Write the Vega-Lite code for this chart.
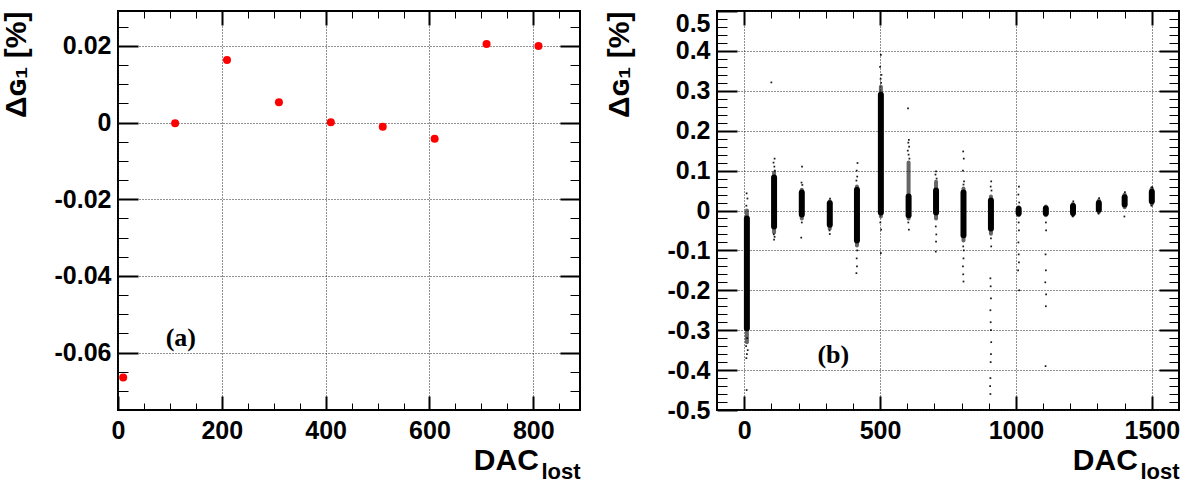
{
  "$schema": "https://vega.github.io/schema/vega-lite/v6.json",
  "padding": {"left": 0, "top": 9, "right": 13, "bottom": 0},
  "spacing": 21,
  "config": {
    "view": {"stroke": "black", "strokeWidth": 2},
    "font": "Liberation Sans, DejaVu Sans",
    "axis": {
      "domain": false,
      "labelFont": "Liberation Sans",
      "labelFontSize": 25,
      "labelFontWeight": "bold",
      "labelColor": "black",
      "tickColor": "black",
      "tickWidth": 2,
      "gridColor": "#222",
      "gridDash": [1, 2],
      "gridWidth": 1,
      "titleFont": "Liberation Sans, DejaVu Sans",
      "titleFontSize": 30,
      "titleFontWeight": "bold",
      "titleColor": "black"
    }
  },
  "hconcat": [
    {
      "width": 462,
      "height": 399,
      "data": {"values": [
        {"dac": 10, "delta": -0.0665},
        {"dac": 110, "delta": -0.0002},
        {"dac": 210, "delta": 0.0163},
        {"dac": 310, "delta": 0.0053},
        {"dac": 410, "delta": 0.0001},
        {"dac": 510, "delta": -0.0011},
        {"dac": 610, "delta": -0.0042},
        {"dac": 710, "delta": 0.0205},
        {"dac": 810, "delta": 0.0200}
      ]},
      "resolve": {"axis": {"x": "independent", "y": "independent"}},
      "layer": [
        {
          "mark": {"type": "circle", "color": "#ff0000", "opacity": 1, "size": 64},
          "encoding": {
            "x": {"field": "dac", "type": "quantitative",
              "scale": {"domain": [0, 890], "nice": false, "zero": false},
              "axis": {"orient": "bottom", "values": [0, 200, 400, 600, 800], "tickSize": -14, "labelPadding": 22.5,
                "grid": true, "labelExpr": "toString(datum.value)", "labelFlush": false,
                "title": "DAC\u00a0\u00a0\u00a0\u00a0\u00a0\u200b", "titleAnchor": "end", "titlePadding": 2}},
            "y": {"field": "delta", "type": "quantitative",
              "scale": {"domain": [-0.075, 0.0291], "nice": false, "zero": false},
              "axis": {"orient": "left", "values": [-0.06, -0.04, -0.02, 0, 0.02], "tickSize": -20, "labelPadding": 27,
                "grid": true, "labelExpr": "toString(datum.value)",
                "title": "Δɢ₁ [%]", "titleAnchor": "end", "titlePadding": 23}}
          }
        },
        {
          "mark": {"type": "point", "opacity": 0},
          "encoding": {
            "x": {"field": "dac", "type": "quantitative",
              "axis": {"orient": "bottom", "values": [50, 100, 150, 250, 300, 350, 450, 500, 550, 650, 700, 750, 850], "tickSize": -7, "tickWidth": 1, "labels": false, "grid": false,
                "title": "lost", "titleFontSize": 22, "titleAnchor": "end", "titlePadding": 51}},
            "y": {"field": "delta", "type": "quantitative",
              "axis": {"orient": "left", "values": [-0.07, -0.065, -0.055, -0.05, -0.045, -0.035, -0.03, -0.025, -0.015, -0.01, -0.005, 0.005, 0.01, 0.015, 0.025], "tickSize": -10, "tickWidth": 1, "labels": false, "grid": false, "title": null}}
          }
        },
        {
          "mark": {"type": "point", "opacity": 0},
          "encoding": {
            "x": {"field": "dac", "type": "quantitative",
              "axis": {"orient": "top", "values": [200, 400, 600, 800], "tickSize": -14, "labels": false, "grid": false, "title": null}},
            "y": {"field": "delta", "type": "quantitative",
              "axis": {"orient": "right", "values": [-0.06, -0.04, -0.02, 0, 0.02], "tickSize": -20, "labels": false, "grid": false, "title": null}}
          }
        },
        {
          "mark": {"type": "point", "opacity": 0},
          "encoding": {
            "x": {"field": "dac", "type": "quantitative",
              "axis": {"orient": "top", "values": [50, 100, 150, 250, 300, 350, 450, 500, 550, 650, 700, 750, 850], "tickSize": -7, "tickWidth": 1, "labels": false, "grid": false, "title": null}},
            "y": {"field": "delta", "type": "quantitative",
              "axis": {"orient": "right", "values": [-0.07, -0.065, -0.055, -0.05, -0.045, -0.035, -0.03, -0.025, -0.015, -0.01, -0.005, 0.005, 0.01, 0.015, 0.025], "tickSize": -10, "tickWidth": 1, "labels": false, "grid": false, "title": null}}
          }
        },
        {
          "data": {"values": [{"dac": 121, "delta": -0.0563, "label": "(a)"}]},
          "mark": {"type": "text", "font": "Liberation Serif", "fontWeight": "bold", "fontSize": 26, "color": "black", "baseline": "middle", "align": "center"},
          "encoding": {
            "x": {"field": "dac", "type": "quantitative", "axis": null},
            "y": {"field": "delta", "type": "quantitative", "axis": null},
            "text": {"field": "label"}
          }
        }
      ]
    },
    {
      "width": 462,
      "height": 399,
      "resolve": {"axis": {"x": "independent", "y": "independent"}},
      "layer": [
        {
          "data": {"values": [
            {"dac": 10, "lo": -0.33, "hi": 0.0},
            {"dac": 110, "lo": -0.055, "hi": 0.095},
            {"dac": 212, "lo": -0.02, "hi": 0.052},
            {"dac": 315, "lo": -0.045, "hi": 0.023},
            {"dac": 415, "lo": -0.088, "hi": 0.06},
            {"dac": 503, "lo": -0.015, "hi": 0.31},
            {"dac": 605, "lo": -0.02, "hi": 0.12},
            {"dac": 706, "lo": -0.02, "hi": 0.072},
            {"dac": 807, "lo": -0.075, "hi": 0.055},
            {"dac": 908, "lo": -0.058, "hi": 0.035},
            {"dac": 1010, "lo": -0.012, "hi": 0.008},
            {"dac": 1110, "lo": -0.012, "hi": 0.01},
            {"dac": 1210, "lo": -0.011, "hi": 0.016},
            {"dac": 1305, "lo": -0.004, "hi": 0.025},
            {"dac": 1400, "lo": 0.008, "hi": 0.04},
            {"dac": 1500, "lo": 0.016, "hi": 0.056}
          ]},
          "mark": {"type": "rule", "color": "black", "strokeWidth": 4, "strokeCap": "round", "opacity": 0.6},
          "encoding": {
            "x": {"field": "dac", "type": "quantitative",
              "scale": {"domain": [-100, 1600], "nice": false, "zero": false},
              "axis": {"orient": "bottom", "values": [0, 500, 1000, 1500], "tickSize": -14, "labelPadding": 22.5,
                "grid": true, "labelExpr": "toString(datum.value)", "labelFlush": false,
                "title": "DAC\u00a0\u00a0\u00a0\u00a0\u00a0\u200b", "titleAnchor": "end", "titlePadding": 2}},
            "y": {"field": "lo", "type": "quantitative",
              "scale": {"domain": [-0.5, 0.5], "nice": false, "zero": false},
              "axis": {"orient": "left", "values": [-0.5, -0.4, -0.3, -0.2, -0.1, 0, 0.1, 0.2, 0.3, 0.4, 0.5], "tickSize": -20, "labelPadding": 27,
                "grid": true, "labelExpr": "toString(datum.value)",
                "labelBaseline": {"condition": {"test": "datum.value >= 0.5", "value": "top"}, "value": "middle"},
                "title": "Δɢ₁ [%]", "titleAnchor": "end", "titlePadding": 32}},
            "y2": {"field": "hi"}
          }
        },
        {
          "data": {"values": [
            {"dac": 10, "lo": -0.295, "hi": -0.02},
            {"dac": 110, "lo": -0.04, "hi": 0.083},
            {"dac": 212, "lo": -0.01, "hi": 0.045},
            {"dac": 315, "lo": -0.036, "hi": 0.018},
            {"dac": 415, "lo": -0.075, "hi": 0.052},
            {"dac": 503, "lo": -0.005, "hi": 0.29},
            {"dac": 605, "lo": -0.012, "hi": 0.035},
            {"dac": 706, "lo": -0.005, "hi": 0.05},
            {"dac": 807, "lo": -0.062, "hi": 0.045},
            {"dac": 908, "lo": -0.045, "hi": 0.025},
            {"dac": 1010, "lo": -0.007, "hi": 0.004},
            {"dac": 1110, "lo": -0.007, "hi": 0.005},
            {"dac": 1210, "lo": -0.006, "hi": 0.011},
            {"dac": 1305, "lo": 0.002, "hi": 0.019},
            {"dac": 1400, "lo": 0.015, "hi": 0.033},
            {"dac": 1500, "lo": 0.023, "hi": 0.047}
          ]},
          "mark": {"type": "rule", "color": "black", "strokeWidth": 6, "strokeCap": "round"},
          "encoding": {
            "x": {"field": "dac", "type": "quantitative", "axis": null},
            "y": {"field": "lo", "type": "quantitative", "axis": null},
            "y2": {"field": "hi"}
          }
        },
        {
          "data": {"values": [
            {"dac": 9, "delta": 0.043}, {"dac": 12, "delta": 0.03}, {"dac": 8, "delta": 0.012}, {"dac": 11, "delta": -0.32},
            {"dac": 7, "delta": -0.34}, {"dac": 13, "delta": -0.35}, {"dac": 10, "delta": -0.36}, {"dac": 8, "delta": -0.37}, {"dac": 9, "delta": -0.45},
            {"dac": 100, "delta": 0.321}, {"dac": 112, "delta": 0.13}, {"dac": 108, "delta": 0.12}, {"dac": 111, "delta": 0.11}, {"dac": 113, "delta": 0.1},
            {"dac": 109, "delta": -0.06}, {"dac": 112, "delta": -0.066}, {"dac": 110, "delta": -0.073},
            {"dac": 213, "delta": 0.11}, {"dac": 211, "delta": 0.07}, {"dac": 214, "delta": 0.064}, {"dac": 212, "delta": -0.03}, {"dac": 210, "delta": -0.068},
            {"dac": 316, "delta": 0.03}, {"dac": 314, "delta": -0.05}, {"dac": 315, "delta": -0.059},
            {"dac": 417, "delta": 0.119}, {"dac": 414, "delta": 0.1}, {"dac": 416, "delta": 0.085}, {"dac": 413, "delta": 0.075},
            {"dac": 416, "delta": -0.1}, {"dac": 414, "delta": -0.12}, {"dac": 415, "delta": -0.14}, {"dac": 413, "delta": -0.157},
            {"dac": 503, "delta": 0.39}, {"dac": 500, "delta": 0.36}, {"dac": 505, "delta": 0.34}, {"dac": 502, "delta": 0.33}, {"dac": 504, "delta": 0.32},
            {"dac": 501, "delta": -0.03}, {"dac": 504, "delta": -0.048}, {"dac": 503, "delta": -0.107},
            {"dac": 603, "delta": 0.256}, {"dac": 606, "delta": 0.177}, {"dac": 604, "delta": 0.17}, {"dac": 607, "delta": 0.16}, {"dac": 602, "delta": 0.15},
            {"dac": 605, "delta": 0.14}, {"dac": 608, "delta": 0.13}, {"dac": 604, "delta": -0.03}, {"dac": 606, "delta": -0.048},
            {"dac": 706, "delta": 0.098}, {"dac": 704, "delta": 0.09}, {"dac": 708, "delta": 0.08}, {"dac": 705, "delta": -0.04},
            {"dac": 707, "delta": -0.06}, {"dac": 706, "delta": -0.078}, {"dac": 705, "delta": -0.103},
            {"dac": 806, "delta": 0.148}, {"dac": 808, "delta": 0.13}, {"dac": 805, "delta": 0.1}, {"dac": 809, "delta": 0.073}, {"dac": 807, "delta": 0.065},
            {"dac": 806, "delta": -0.09}, {"dac": 808, "delta": -0.1}, {"dac": 807, "delta": -0.12}, {"dac": 805, "delta": -0.14}, {"dac": 806, "delta": -0.16}, {"dac": 807, "delta": -0.178},
            {"dac": 909, "delta": 0.073}, {"dac": 907, "delta": 0.06}, {"dac": 910, "delta": 0.05}, {"dac": 908, "delta": -0.07}, {"dac": 909, "delta": -0.09},
            {"dac": 906, "delta": -0.17}, {"dac": 907, "delta": -0.19}, {"dac": 908, "delta": -0.22}, {"dac": 906, "delta": -0.25}, {"dac": 907, "delta": -0.28},
            {"dac": 908, "delta": -0.3}, {"dac": 909, "delta": -0.33}, {"dac": 908, "delta": -0.36}, {"dac": 907, "delta": -0.38}, {"dac": 906, "delta": -0.42},
            {"dac": 905, "delta": -0.44}, {"dac": 906, "delta": -0.46},
            {"dac": 1011, "delta": 0.06}, {"dac": 1009, "delta": 0.04}, {"dac": 1012, "delta": 0.02}, {"dac": 1010, "delta": -0.03}, {"dac": 1011, "delta": -0.05},
            {"dac": 1009, "delta": -0.08}, {"dac": 1010, "delta": -0.11}, {"dac": 1011, "delta": -0.13}, {"dac": 1008, "delta": -0.15}, {"dac": 1012, "delta": -0.2},
            {"dac": 1110, "delta": -0.03}, {"dac": 1111, "delta": -0.05}, {"dac": 1109, "delta": -0.11}, {"dac": 1110, "delta": -0.15},
            {"dac": 1108, "delta": -0.18}, {"dac": 1111, "delta": -0.21}, {"dac": 1110, "delta": -0.24}, {"dac": 1109, "delta": -0.39},
            {"dac": 1211, "delta": 0.023}, {"dac": 1209, "delta": -0.015},
            {"dac": 1306, "delta": 0.031}, {"dac": 1304, "delta": -0.008},
            {"dac": 1401, "delta": 0.046}, {"dac": 1399, "delta": -0.015},
            {"dac": 1501, "delta": 0.058}, {"dac": 1499, "delta": 0.012}
          ]},
          "layer": [
            {
              "mark": {"type": "square", "color": "black", "size": 3, "opacity": 0.9},
              "encoding": {
                "x": {"field": "dac", "type": "quantitative", "axis": null},
                "y": {"field": "delta", "type": "quantitative", "axis": null}
              }
            },
            {
              "mark": {"type": "point", "opacity": 0},
              "encoding": {
                "x": {"field": "dac", "type": "quantitative",
                  "axis": {"orient": "bottom", "values": [100, 200, 300, 400, 600, 700, 800, 900, 1100, 1200, 1300, 1400], "tickSize": -7, "tickWidth": 1, "labels": false, "grid": false,
                    "title": "lost", "titleFontSize": 22, "titleAnchor": "end", "titlePadding": 51}},
                "y": {"field": "delta", "type": "quantitative",
                  "axis": {"orient": "left", "values": [-0.48, -0.46, -0.44, -0.42, -0.38, -0.36, -0.34, -0.32, -0.28, -0.26, -0.24, -0.22, -0.18, -0.16, -0.14, -0.12, -0.08, -0.06, -0.04, -0.02, 0.02, 0.04, 0.06, 0.08, 0.12, 0.14, 0.16, 0.18, 0.22, 0.24, 0.26, 0.28, 0.32, 0.34, 0.36, 0.38, 0.42, 0.44, 0.46, 0.48], "tickSize": -10, "tickWidth": 1, "labels": false, "grid": false, "title": null}}
              }
            },
            {
              "mark": {"type": "point", "opacity": 0},
              "encoding": {
                "x": {"field": "dac", "type": "quantitative",
                  "axis": {"orient": "top", "values": [0, 500, 1000, 1500], "tickSize": -14, "labels": false, "grid": false, "title": null}},
                "y": {"field": "delta", "type": "quantitative",
                  "axis": {"orient": "right", "values": [-0.4, -0.3, -0.2, -0.1, 0, 0.1, 0.2, 0.3, 0.4], "tickSize": -20, "labels": false, "grid": false, "title": null}}
              }
            },
            {
              "mark": {"type": "point", "opacity": 0},
              "encoding": {
                "x": {"field": "dac", "type": "quantitative",
                  "axis": {"orient": "top", "values": [100, 200, 300, 400, 600, 700, 800, 900, 1100, 1200, 1300, 1400], "tickSize": -7, "tickWidth": 1, "labels": false, "grid": false, "title": null}},
                "y": {"field": "delta", "type": "quantitative",
                  "axis": {"orient": "right", "values": [-0.48, -0.46, -0.44, -0.42, -0.38, -0.36, -0.34, -0.32, -0.28, -0.26, -0.24, -0.22, -0.18, -0.16, -0.14, -0.12, -0.08, -0.06, -0.04, -0.02, 0.02, 0.04, 0.06, 0.08, 0.12, 0.14, 0.16, 0.18, 0.22, 0.24, 0.26, 0.28, 0.32, 0.34, 0.36, 0.38, 0.42, 0.44, 0.46, 0.48], "tickSize": -10, "tickWidth": 1, "labels": false, "grid": false, "title": null}}
              }
            }
          ]
        },
        {
          "data": {"values": [{"dac": 328, "delta": -0.363, "label": "(b)"}]},
          "mark": {"type": "text", "font": "Liberation Serif", "fontWeight": "bold", "fontSize": 26, "color": "black", "baseline": "middle", "align": "center"},
          "encoding": {
            "x": {"field": "dac", "type": "quantitative", "axis": null},
            "y": {"field": "delta", "type": "quantitative", "axis": null},
            "text": {"field": "label"}
          }
        }
      ]
    }
  ]
}
